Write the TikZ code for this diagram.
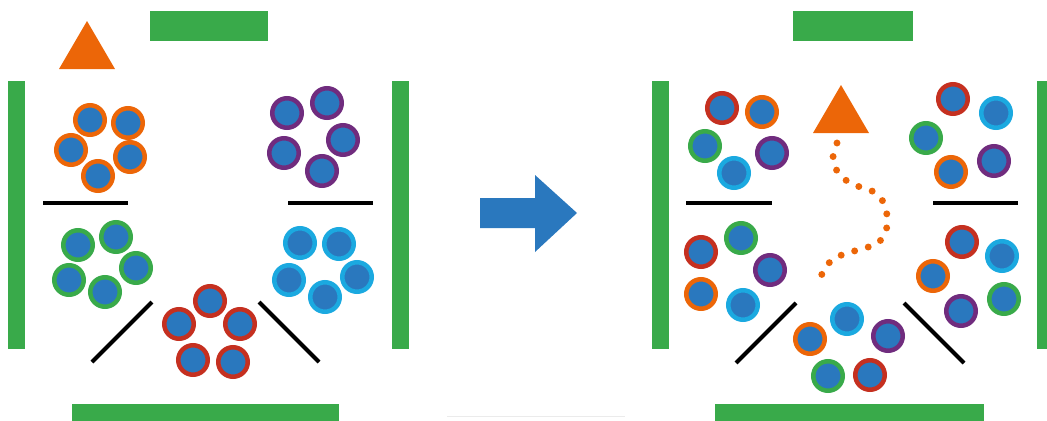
\documentclass[tikz,border=0pt]{standalone}
\usepackage{tikz}

\definecolor{wallgreen}{RGB}{57,170,74}
\definecolor{ballblue}{RGB}{42,120,190}
\definecolor{ringorange}{RGB}{236,102,8}
\definecolor{ringpurple}{RGB}{112,44,126}
\definecolor{ringcyan}{RGB}{27,169,224}
\definecolor{ringred}{RGB}{197,48,32}
\definecolor{ringgreen}{RGB}{57,170,74}

\tikzset{
  ball/.style={circle,minimum size=22.1pt,inner sep=0pt,fill=ballblue,line width=3.4pt},
  ob/.style={ball,draw=ringorange},
  pb/.style={ball,draw=ringpurple},
  cb/.style={ball,draw=ringcyan},
  rb/.style={ball,draw=ringred},
  gb/.style={ball,draw=ringgreen},
  wall/.style={fill=wallgreen},
  shelf/.style={line width=3pt},
}

\begin{document}
\begin{tikzpicture}[x=0.75pt,y=-0.75pt]
    \useasboundingbox (0,0) rectangle (1047,421);

    % before
    \fill[wall] (150,11) rectangle (268,41);
    \fill[wall] (8,81) rectangle (25,349);
    \fill[wall] (392,81) rectangle (409,349);
    \fill[wall] (72,404) rectangle (339,421);
    \fill[ringorange] (87,21) -- (115,69) -- (59,69) -- cycle;
    \draw[shelf] (43,203) -- (128,203);
    \draw[shelf] (288,203) -- (373,203);
    \draw[shelf] (152,302) -- (92,362);
    \draw[shelf] (259,302) -- (319,362);

    \node[ob] (lo1) at (90,120) {};
    \node[ob] (lo2) at (128,123) {};
    \node[ob] (lo3) at (71,150) {};
    \node[ob] (lo4) at (130,157) {};
    \node[ob] (lo5) at (98,176) {};

    \node[pb] (lp1) at (287,113) {};
    \node[pb] (lp2) at (327,103) {};
    \node[pb] (lp3) at (343,140) {};
    \node[pb] (lp4) at (284,153) {};
    \node[pb] (lp5) at (322,171) {};

    \node[gb] (lg1) at (78,245) {};
    \node[gb] (lg2) at (116,237) {};
    \node[gb] (lg3) at (136,268) {};
    \node[gb] (lg4) at (69,280) {};
    \node[gb] (lg5) at (105,292) {};

    \node[cb] (lc1) at (300,243) {};
    \node[cb] (lc2) at (339,244) {};
    \node[cb] (lc3) at (357,277) {};
    \node[cb] (lc4) at (289,280) {};
    \node[cb] (lc5) at (325,297) {};

    \node[rb] (lr1) at (210,301) {};
    \node[rb] (lr2) at (240,324) {};
    \node[rb] (lr3) at (179,324) {};
    \node[rb] (lr4) at (193,360) {};
    \node[rb] (lr5) at (233,362) {};

    % arrow
    \fill[ballblue] (480,198) -- (535,198) -- (535,175) -- (577,213)
        -- (535,252) -- (535,228) -- (480,228) -- cycle;
    \draw[black!8,line width=0.5pt] (447,416) -- (625,416);

    % after
    \fill[wall] (793,11) rectangle (913,41);
    \fill[wall] (652,81) rectangle (669,349);
    \fill[wall] (1037,81) rectangle (1047,349);
    \fill[wall] (715,404) rectangle (984,421);
    \fill[ringorange] (841,85) -- (869,133) -- (813,133) -- cycle;
    \draw[shelf] (686,203) -- (772,203);
    \draw[shelf] (933,203) -- (1018,203);
    \draw[shelf] (796,303) -- (736,363);
    \draw[shelf] (904,303) -- (964,363);

    \draw[ringorange,line width=5.2pt,line cap=round,dash pattern=on 0pt off 10.6pt]
        plot[smooth] coordinates {(837,143) (833,157) (837,171) (847,181) (860,187)
        (874,192) (884,203) (887,216) (886,231) (878,243) (865,248) (851,252)
        (837,257) (826,266) (820,279)};

    \node[rb] (ra1) at (722,108) {};
    \node[ob] (ra2) at (762,112) {};
    \node[gb] (ra3) at (705,146) {};
    \node[pb] (ra4) at (772,153) {};
    \node[cb] (ra5) at (734,173) {};

    \node[rb] (rb1) at (953,99) {};
    \node[cb] (rb2) at (996,113) {};
    \node[gb] (rb3) at (926,138) {};
    \node[pb] (rb4) at (994,161) {};
    \node[ob] (rb5) at (951,172) {};

    \node[rb] (rc1) at (701,252) {};
    \node[gb] (rc2) at (741,238) {};
    \node[pb] (rc3) at (770,270) {};
    \node[ob] (rc4) at (701,294) {};
    \node[cb] (rc5) at (743,305) {};

    \node[rb] (rd1) at (962,242) {};
    \node[cb] (rd2) at (1002,256) {};
    \node[ob] (rd3) at (933,276) {};
    \node[gb] (rd4) at (1004,299) {};
    \node[pb] (rd5) at (961,311) {};

    \node[cb] (re1) at (847,319) {};
    \node[ob] (re2) at (810,339) {};
    \node[pb] (re3) at (888,336) {};
    \node[gb] (re4) at (828,376) {};
    \node[rb] (re5) at (870,375) {};
\end{tikzpicture}
\end{document}
